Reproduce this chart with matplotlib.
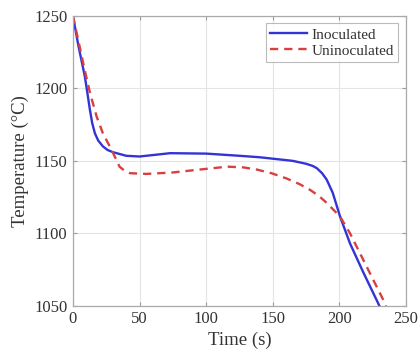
import matplotlib
matplotlib.use("Agg")
import matplotlib.pyplot as plt

plt.rcParams['font.family'] = ['Liberation Serif', 'DejaVu Serif']

t_inoc = [0, 4, 9, 11, 12.8, 14.5, 16.5, 19, 22.5, 26, 30, 40, 50, 60, 73, 100, 125, 140, 155, 165, 175, 180, 183, 187, 190.5, 195, 200.5, 208, 218, 229, 230]
T_inoc = [1250, 1230, 1208, 1196, 1185, 1176, 1169, 1164, 1160, 1157.5, 1156, 1153.5, 1153, 1154, 1155.3, 1155, 1153.5, 1152.5, 1151, 1150, 1148, 1146.5, 1145, 1141.5, 1137, 1128, 1111.6, 1093, 1073, 1052, 1050]

t_uninoc = [0, 5, 9, 12.8, 17.8, 22.5, 29, 35, 39, 43, 55, 75, 95, 116, 128, 138, 149, 160, 170, 178, 185, 190.5, 200.5, 208, 220.5, 233, 235]
T_uninoc = [1250, 1229, 1212, 1197, 1180.6, 1169, 1157.6, 1146, 1143, 1141.5, 1141, 1142, 1144, 1146, 1145.5, 1144, 1141.5, 1138, 1134, 1130, 1125.5, 1121, 1111.6, 1100, 1077, 1054, 1050]

x_ticks = [0, 50, 100, 150, 200, 250]
y_ticks = [1050, 1100, 1150, 1200, 1250]

fig = plt.figure(figsize=(4.19, 3.52), dpi=100)
ax = fig.add_axes([0.174, 0.131, 0.795, 0.824])

ax.plot(t_inoc, T_inoc, color='#3333d6', lw=1.7, label='Inoculated')
ax.plot(t_uninoc, T_uninoc, color='#d84040', lw=1.7, ls=(0, (3.5, 2.5)), label='Uninoculated')

ax.set_xlim(0, 250)
ax.set_ylim(1050, 1250)
ax.set_xticks(x_ticks)
ax.set_yticks(y_ticks)
ax.grid(True, color='#e4e4e4', lw=0.8)
ax.set_axisbelow(True)
ax.tick_params(direction='in', length=3, color='#999999', labelsize=12, labelcolor='#333333', top=True, right=True, pad=4)
for s in ax.spines.values():
    s.set_color('#aaaaaa')
    s.set_linewidth(0.9)
ax.set_xlabel('Time (s)', fontsize=13.5, color='#333333', labelpad=3)
ax.set_ylabel('Temperature (°C)', fontsize=13.5, color='#333333', labelpad=4)

leg = ax.legend(loc='upper right', fontsize=11, frameon=True, fancybox=False,
                edgecolor='#aaaaaa', handlelength=2.4, borderpad=0.3, labelspacing=0.15,
                handletextpad=0.3, borderaxespad=0.5)
leg.get_frame().set_linewidth(0.8)
for txt in leg.get_texts():
    txt.set_color('#333333')

fig.savefig('out.png', dpi=100)
